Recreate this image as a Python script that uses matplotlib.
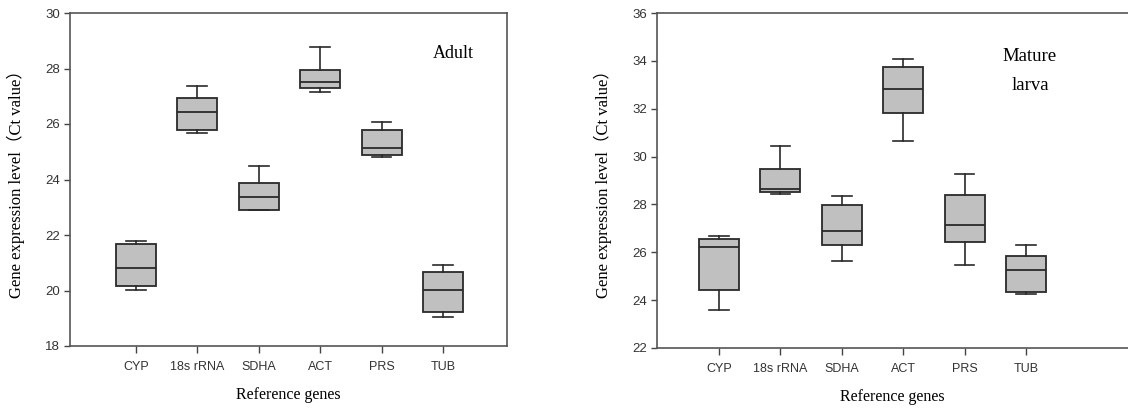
import matplotlib
matplotlib.use('Agg')
import matplotlib.pyplot as plt

genes = ['CYP', '18s rRNA', 'SDHA', 'ACT', 'PRS', 'TUB']

# Adult: whisker low, Q1, median, Q3, whisker high
adult_low = [20.03, 25.69, 22.89, 27.14, 24.80, 19.05]
adult_q1 = [20.17, 25.78, 22.91, 27.28, 24.90, 19.22]
adult_med = [20.82, 26.45, 23.36, 27.51, 25.13, 20.03]
adult_q3 = [21.67, 26.93, 23.89, 27.93, 25.80, 20.68]
adult_high = [21.77, 27.38, 24.49, 28.78, 26.06, 20.91]

# Mature larva
larva_low = [23.58, 28.45, 25.64, 30.63, 25.48, 24.27]
larva_q1 = [24.44, 28.53, 26.30, 31.81, 26.44, 24.34]
larva_med = [26.24, 28.66, 26.87, 32.83, 27.16, 25.24]
larva_q3 = [26.56, 29.47, 27.96, 33.75, 28.39, 25.85]
larva_high = [26.68, 30.44, 28.34, 34.06, 29.26, 26.30]

serif = ['Liberation Serif', 'Noto Sans CJK SC']
tick_font = 'Liberation Sans'


def make_stats(low, q1, med, q3, high):
    return [dict(whislo=a, q1=b, med=c, q3=d, whishi=e, label=g)
            for a, b, c, d, e, g in zip(low, q1, med, q3, high, genes)]


def draw_panel(ax, stats, ylim, yticks, xlim, note, note_size):
    pos = list(range(1, len(genes) + 1))
    ax.bxp(stats, positions=pos, widths=0.65, showfliers=False,
           patch_artist=True,
           boxprops=dict(facecolor='#c0c0c0', edgecolor='#2a2a2a', linewidth=1.3),
           medianprops=dict(color='#2a2a2a', linewidth=1.3),
           whiskerprops=dict(color='#2a2a2a', linewidth=1.2),
           capprops=dict(color='#2a2a2a', linewidth=1.2),
           capwidths=0.32)
    ax.set_xlim(*xlim)
    ax.set_ylim(*ylim)
    ax.set_yticks(yticks)
    ax.set_xticks(pos)
    ax.set_xticklabels(genes, fontsize=9, family=tick_font, color='#333333')
    ax.set_yticklabels([str(t) for t in yticks], fontsize=9.5, family=tick_font,
                       color='#333333')
    ax.tick_params(axis='x', length=5, width=1, color='#444444', pad=6)
    ax.tick_params(axis='y', length=4, width=1, color='#444444', pad=3)
    for s in ax.spines.values():
        s.set_color('#555555')
        s.set_linewidth(1.2)
    ax.set_xlabel('Reference genes', family=serif, fontsize=11.5, labelpad=10)
    ax.set_ylabel('Gene expression level（Ct value）', family=serif,
                  fontsize=12, labelpad=15)
    ax.text(*note[0], note[1], transform=ax.transAxes, ha='center', va='center',
            family=serif, fontsize=note_size, linespacing=1.85)


fig = plt.figure(figsize=(11.28, 4.08), dpi=100)
W, H = 1128, 408

ax1 = fig.add_axes([70 / W, 62 / H, 437 / W, 333 / H])
draw_panel(ax1, make_stats(adult_low, adult_q1, adult_med, adult_q3, adult_high),
           (18, 30), list(range(18, 31, 2)), (-0.07, 7.04),
           ((383 / 437, (346 - 53) / 333), 'Adult'), 13)

ax2 = fig.add_axes([657 / W, 60 / H, (W - 657) / W, 335 / H])
draw_panel(ax2, make_stats(larva_low, larva_q1, larva_med, larva_q3, larva_high),
           (22, 36), list(range(22, 37, 2)), (-0.01, 7.66),
           ((373 / 471, (348 - 71) / 335), 'Mature\nlarva'), 13.5)
ax2.spines['right'].set_visible(False)

fig.savefig('out.png', dpi=100)
